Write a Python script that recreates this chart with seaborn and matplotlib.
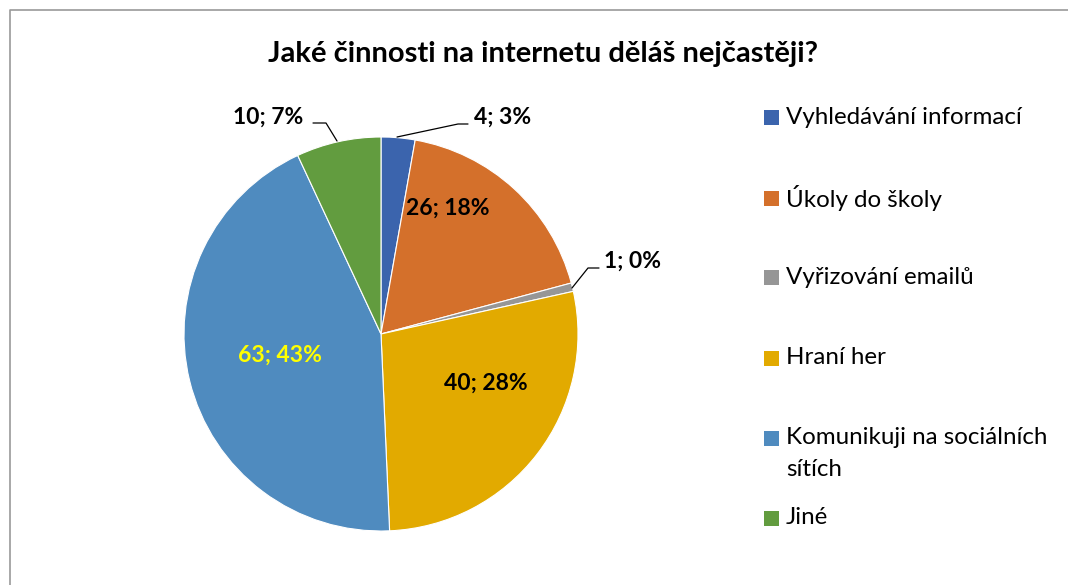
import numpy as np
import matplotlib
matplotlib.use("Agg")
import matplotlib.pyplot as plt
import seaborn as sns

categories = ["Vyhledávání informací", "Úkoly do školy", "Vyřizování emailů",
              "Hraní her", "Komunikuji na sociálních\nsítích", "Jiné"]
counts = [4, 26, 1, 40, 63, 10]
pct_labels = ["3%", "18%", "0%", "28%", "43%", "7%"]
colors = ["#3B64AD", "#D4702B", "#969696", "#E2AA00", "#4F8BBF", "#629C3F"]

sns.set_theme(style="white")
plt.rcParams["font.family"] = ["Lato", "DejaVu Sans"]

W, H = 1068, 585
fig = plt.figure(figsize=(W / 100, H / 100), dpi=100)
ax = fig.add_axes([0, 0, 1, 1])

# chart frame (left/top visible)
ax.plot([9.5, 9.5, W + 5], [-5, H - 9.5, H - 9.5], color="#9a9a9a", lw=1.2)

cx, cy, R = 381, H - 334, 197
wedges, _ = ax.pie(counts, colors=colors, startangle=90, counterclock=False,
                   center=(cx, cy), radius=R, frame=True,
                   wedgeprops=dict(edgecolor="white", linewidth=0.8))
ax.set_xlim(0, W)
ax.set_ylim(0, H)
ax.set_aspect("equal")
ax.axis("off")

ax.text(543, H - 54, "Jaké činnosti na internetu děláš nejčastěji?",
        ha="center", va="center", fontsize=21, fontweight="bold", color="black")

labels = [f"{c}; {p}" for c, p in zip(counts, pct_labels)]
lab_fs = 16.5

# label placement (pixel positions, y from top)
inside = {1: (448, 208, "black"), 3: (486, 383, "black"), 4: (280, 355, "#FFFF00")}
for i, (x, y, col) in inside.items():
    ax.text(x, H - y, labels[i], ha="center", va="center", fontsize=lab_fs,
            fontweight="bold", color=col)

# outside labels with leader lines
outside = {
    0: ((503, 117), [(397, 137), (458, 124), (468, 124)]),
    2: ((632, 261), [(572, 288), (588, 268), (599, 268)]),
    5: ((268, 117), [(337, 141), (326, 123), (313, 123)]),
}
for i, ((x, y), pts) in outside.items():
    ax.text(x, H - y, labels[i], ha="center", va="center", fontsize=lab_fs,
            fontweight="bold", color="black")
    ax.plot([p[0] for p in pts], [H - p[1] for p in pts], color="black", lw=0.9)

# legend
leg_y = [117, 198, 277, 358, 438, 518]
for (lab, col, y) in zip(categories, colors, leg_y):
    ax.add_patch(plt.Rectangle((764, H - y - 7.5), 15, 15, color=col, lw=0))
    for k, line in enumerate(lab.split("\n")):
        ax.text(786, H - y - 32 * k, line, ha="left", va="center",
                fontsize=17.4, color="black")

fig.savefig("out.png", dpi=100)
